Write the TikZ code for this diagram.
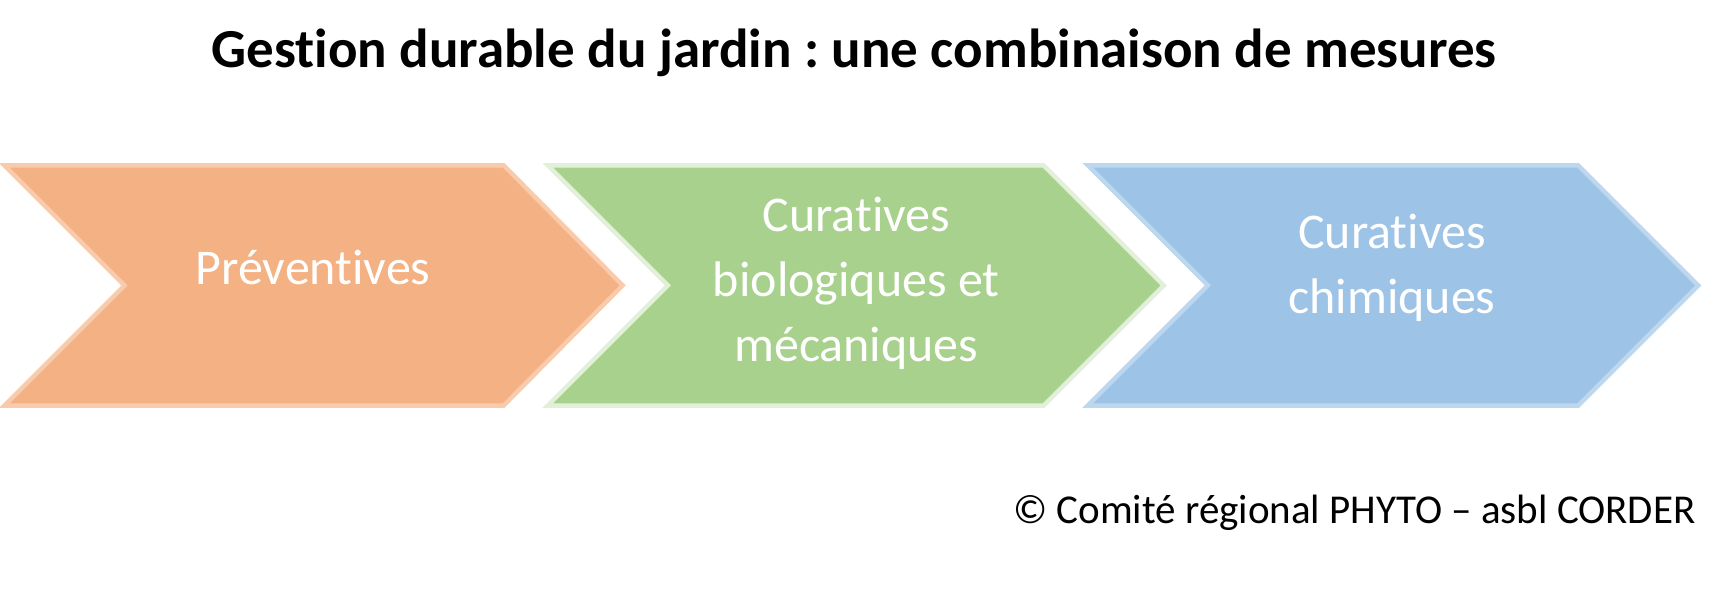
\documentclass[tikz,border=0pt]{standalone}
\usepackage{fontspec}
\setmainfont[Ligatures=NoCommon]{Carlito}
\usepackage{tikz}
\frenchspacing

\definecolor{orangefill}{HTML}{F4B183}
\definecolor{orangeline}{HTML}{F8CBAD}
\definecolor{greenfill}{HTML}{A9D18E}
\definecolor{greenline}{HTML}{E2F0D9}
\definecolor{bluefill}{HTML}{9DC3E6}
\definecolor{blueline}{HTML}{BDD7EE}

\tikzset{
  chevron/.style={line width=2.2pt, line join=miter},
  steptext/.style={white, align=center, font=\fontsize{25}{32.5}\selectfont},
}

\begin{document}
\begin{tikzpicture}[x=0.551pt,y=0.551pt]
\useasboundingbox (0,0) rectangle (1568,539);

\node[font=\bfseries\fontsize{27.5}{32}\selectfont] (title) at (775,491) {Gestion durable du jardin : une combinaison de mesures};

\draw[chevron, fill=orangefill, draw=orangeline] (4,389) -- (457,389) -- (565,280) -- (457,171) -- (4,171) -- (113,280) -- cycle;
\draw[chevron, fill=greenfill, draw=greenline] (497,389) -- (947,389) -- (1056,280) -- (947,171) -- (497,171) -- (606,280) -- cycle;
\draw[chevron, fill=bluefill, draw=blueline] (987,389) -- (1432,389) -- (1541,280) -- (1432,171) -- (987,171) -- (1096,280) -- cycle;

\node[steptext] (preventives) at (284,296) {Préventives};
\node[steptext] (biologiques) at (777,282) {Curatives\\biologiques et\\mécaniques};
\node[steptext] (chimiques) at (1263,296) {Curatives\\chimiques};

\node[anchor=east, font=\fontsize{20.5}{24}\selectfont] (copyright) at (1545,74) {© Comité régional PHYTO – asbl CORDER};
\end{tikzpicture}
\end{document}
